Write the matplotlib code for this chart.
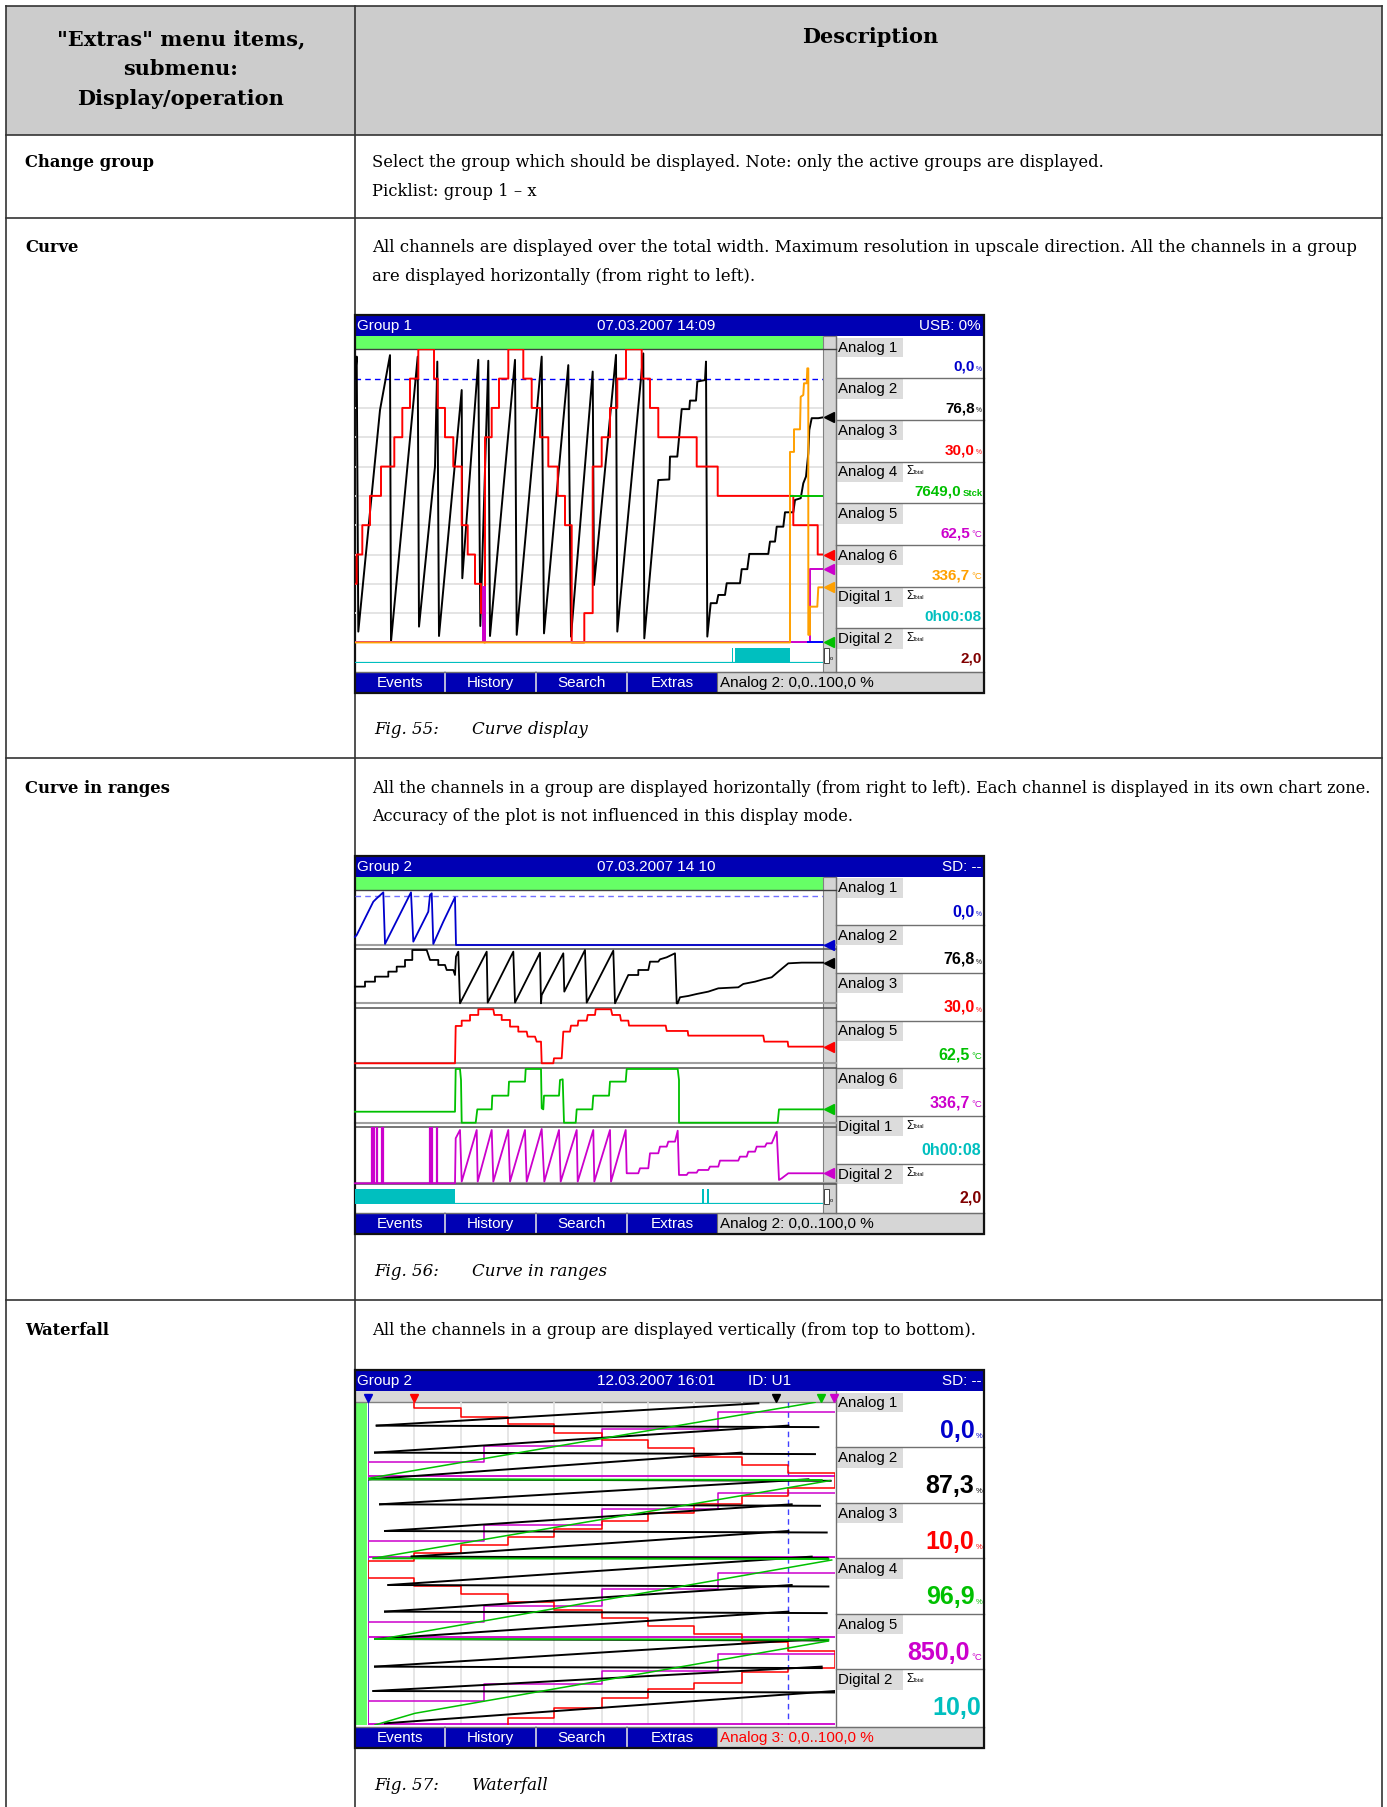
import matplotlib.pyplot as plt
from matplotlib.patches import Rectangle

plt.rcParams['font.family'] = 'DejaVu Serif'

# ---------------- table text ----------------
header_left = ['"Extras" menu items,', 'submenu:', 'Display/operation']
header_right = 'Description'
row_names = ['Change group', 'Curve', 'Curve in ranges', 'Waterfall']
row_texts = [
    ['Select the group which should be displayed. Note: only the active groups are displayed.',
     'Picklist: group 1 \u2013 x'],
    ['All channels are displayed over the total width. Maximum resolution in upscale direction. All the channels in a group',
     'are displayed horizontally (from right to left).'],
    ['All the channels in a group are displayed horizontally (from right to left). Each channel is displayed in its own chart zone.',
     'Accuracy of the plot is not influenced in this display mode.'],
    ['All the channels in a group are displayed vertically (from top to bottom).'],
]
fig_numbers = ['Fig. 55:', 'Fig. 56:', 'Fig. 57:']
fig_titles = ['Curve display', 'Curve in ranges', 'Waterfall']

buttons = ['Events', 'History', 'Search', 'Extras']

# ---------------- Fig. 55: curve display (t = screen column, y = % of range) ----------------
s1_titles = ['Group 1', '07.03.2007 14:09', 'USB: 0%']
s1_status = 'Analog 2: 0,0..100,0 %'
s1_labels = ['Analog 1', 'Analog 2', 'Analog 3', 'Analog 4', 'Analog 5', 'Analog 6', 'Digital 1', 'Digital 2']
s1_values = ['0,0', '76,8', '30,0', '7649,0', '62,5', '336,7', '0h00:08', '2,0']
s1_units = ['%', '%', '%', 'Stck', '\u00b0C', '\u00b0C', '', '']
s1_colors = ['#0000cc', '#000000', '#ff0000', '#00c000', '#cc00cc', '#ffa000', '#00bfbf', '#800000']
s1_sigma = [False, False, False, True, False, False, True, True]
s1_grid = [10, 20, 30, 40, 50, 60, 70, 80]
s1_limit = 90

s1_black = [(0, 90), (1.7, 97.5), (3.3, 3.7), (25, 79.3), (35, 98), (36, 0.3), (62.7, 97.5), (64, 5.4),
            (80, 60), (82.3, 95.8), (84, 2.2), (106.7, 86.1), (107.3, 21.9), (123.3, 96.4), (125.3, 5.6),
            (133.3, 96.1), (135, 2.2), (160, 96.4), (161.7, 2.6), (186.7, 97.5), (189, 3.1), (213.3, 94.6),
            (216, 2), (237.7, 92.4), (239, 19.6), (261, 98.1), (262.3, 3.7), (288.3, 98.6), (289.3, 1.4),
            (303.3, 55.4), (314.3, 55.6), (315, 63.4), (322.3, 63.4), (326.7, 79.6), (334.3, 79.6),
            (335, 82.5), (341, 82.5), (342.3, 89), (350, 89.5), (351, 95.8), (352.3, 2), (355.7, 13.4),
            (361.7, 13.4), (363.3, 16.2), (370, 16.2), (371.7, 20.2), (385, 20.2), (386.7, 25), (392.3, 25),
            (394.3, 30.2), (413.3, 30.2), (415, 34.4), (420, 34.4), (421.7, 39.5), (428.3, 39.5), (430, 44.4),
            (438.3, 44.4), (440, 48.6), (445.7, 49.2), (448.3, 54.3), (451, 56.6), (453.3, 64.5),
            (454.3, 72.5), (456.7, 76.5), (463.3, 76.5), (468.3, 76.8)]
s1_red = [(0, 20), (1.7, 20), (1.7, 30), (7.3, 30), (7.3, 40), (15, 40), (15, 50), (26, 50), (26, 60),
          (39.3, 60), (39.3, 70), (47.3, 70), (47.3, 80), (55, 80), (55, 90), (63.3, 90), (63.3, 100),
          (79, 100), (79, 90), (82.7, 90), (82.7, 80), (90, 80), (90, 70), (98.3, 70), (98.3, 60),
          (106.7, 60), (106.7, 40), (112.7, 40), (112.7, 30), (120, 30), (120, 20), (126, 20), (126, 10),
          (128.3, 10), (129.3, 0), (130, 0), (130, 70), (136.7, 70), (136.7, 80), (144, 80), (144, 90),
          (153.3, 90), (153.3, 100), (168.3, 100), (168.3, 90), (176.7, 90), (176.7, 80), (185, 80),
          (185, 70), (193.3, 70), (193.3, 60), (202.7, 60), (202.7, 50), (210, 50), (210, 40), (216.7, 40),
          (216.7, 0), (229.3, 0), (229.3, 10), (237.7, 10), (237.7, 60), (246.7, 60), (246.7, 70), (255, 70),
          (255, 80), (262.3, 80), (262.3, 90), (271, 90), (271, 100), (286.7, 100), (286.7, 90), (295, 90),
          (295, 80), (303.3, 80), (303.3, 70), (341.7, 70), (341.7, 60), (362.7, 60), (362.7, 50),
          (438.3, 50), (438.3, 40), (462.7, 40), (462.7, 30), (468.3, 30)]
s1_magenta = [(0, 0), (128.3, 0), (128.3, 19), (130, 19), (130, 0), (455, 0), (455, 25), (468.3, 25)]
s1_orange = [(0, 0), (435, 0), (435, 65), (439, 65), (439, 72.7), (445, 72.7), (445.7, 83.8), (448.3, 84.4),
             (449, 88.4), (451.7, 88.4), (452.3, 93.5), (453.3, 93.5), (453.3, 2.6), (455, 2.6), (455, 12.2),
             (462.3, 12.2), (463.3, 18.8), (468.3, 18.8)]
s1_green = [(435.7, 50), (468.3, 50)]
s1_blue = [(453.3, 0), (468.3, 0)]
s1_cursor_y = [76.8, 30, 25, 18.8, 0]
s1_cursor_c = ['#000000', '#ff0000', '#cc00cc', '#ffa000', '#00c000']
s1_digital = [(376.7, 377.8), (379.5, 435)]

# ---------------- Fig. 56: curve in ranges ----------------
s2_titles = ['Group 2', '07.03.2007 14 10', 'SD: --']
s2_status = 'Analog 2: 0,0..100,0 %'
s2_labels = ['Analog 1', 'Analog 2', 'Analog 3', 'Analog 5', 'Analog 6', 'Digital 1', 'Digital 2']
s2_values = ['0,0', '76,8', '30,0', '62,5', '336,7', '0h00:08', '2,0']
s2_units = ['%', '%', '%', '\u00b0C', '\u00b0C', '', '']
s2_colors = ['#0000cc', '#000000', '#ff0000', '#00c000', '#cc00cc', '#00bfbf', '#800000']
s2_sigma = [False, False, False, False, False, True, True]
s2_limit = 91.4

s2_blue = [(0, 15), (1.7, 18.5), (18.3, 80.2), (21.7, 86.4), (28.3, 97.5), (30, 1.9), (56, 97.5), (58.3, 6.2),
           (73.3, 61.7), (75, 92.6), (76.7, 95.7), (78.3, 1.9), (88.3, 43.2), (100, 88.3), (101, 0),
           (468.3, 0)]
s2_black = [(0, 31.3), (10, 31.3), (10, 40.6), (20, 40.6), (20, 50), (33.3, 50), (33.3, 59.4), (41.7, 59.4),
            (41.7, 68.8), (50, 68.8), (50, 81.3), (57.3, 81.3), (57.3, 100), (71.7, 100), (75, 81.3),
            (83.3, 81.3), (83.3, 71.9), (90, 71.9), (91.7, 62.5), (98.3, 62.5), (100, 53.1), (101, 87.5),
            (103.3, 96.9), (105, 0), (131.7, 96.9), (132.7, 1.3), (158.3, 96.9), (160, 1.3), (185, 95),
            (186, 0), (186.7, 15.6), (208.3, 93.8), (209.3, 21.9), (230, 100), (231.7, 1.3), (258.3, 98.8),
            (260, 0), (273.3, 53.1), (283.3, 53.1), (283.3, 62.5), (293.3, 62.5), (295, 78.1), (303.3, 78.1),
            (305, 82.5), (311.7, 86.3), (320, 93.8), (321.7, 0), (322.7, 0), (325, 11.3), (333.3, 13.8),
            (341.7, 17.5), (353.3, 21.9), (363.3, 28.1), (383.3, 30), (388.3, 36.3), (400, 40.6),
            (408.3, 45), (416.7, 48.8), (423.3, 59.4), (433.3, 75), (446.7, 76.3), (468.3, 76.3)]
s2_red = [(0, 0), (100, 0), (100.7, 67.9), (106.7, 67.9), (106.7, 77.6), (115, 77.6), (115, 87.9),
          (123.3, 87.9), (123.3, 98.2), (138.3, 98.2), (139.3, 87.9), (146.7, 87.9), (146.7, 78.8),
          (155, 78.8), (155, 66.7), (163.3, 66.7), (163.3, 57.6), (171.7, 57.6), (172.7, 48.5), (180, 48.5),
          (181.7, 39.4), (186, 39.4), (186.7, 0), (198.3, 0), (199, 9.1), (206.7, 9.1), (208.3, 57.6),
          (215, 57.6), (216, 68.5), (222.7, 68.5), (223.3, 77.6), (231.7, 77.6), (232.7, 87.9), (240, 87.9),
          (240.7, 98.2), (256, 98.2), (257.3, 87.9), (265, 87.9), (266, 77.6), (273.3, 77.6), (274, 68.5),
          (310.7, 68.5), (311.7, 58.8), (332.7, 58.8), (333.3, 50.3), (408.3, 50.3), (409.3, 39.4),
          (432.7, 39.4), (433.3, 30.3), (468.3, 30.3)]
s2_green = [(0, 20.2), (100, 20.2), (100.7, 98.8), (105, 98.8), (106, 78.5), (106.7, 0), (120.7, 0),
            (122.3, 24.5), (136.7, 24.5), (137.3, 49.7), (153.3, 49.7), (154, 75.5), (170, 75.5),
            (170.7, 98.8), (186, 98.8), (186.7, 26.4), (188.3, 24.5), (189, 49.7), (204, 49.7), (205, 78.5),
            (207.7, 79.8), (209, 0), (220.7, 0), (221.7, 24.5), (237.3, 24.5), (238.3, 49.7), (254, 49.7),
            (255, 75.5), (270.7, 75.5), (271.7, 98.8), (322.7, 98.8), (324, 78.5), (324, 0), (422.7, 0),
            (424, 24.5), (468.3, 24.5)]
s2_magenta = [(0, 0), (100, 0), (100.7, 80.4), (105, 95.2), (106.7, 3), (121.7, 95.2), (122.7, 3),
              (136.7, 95.2), (138.3, 3), (153.3, 95.2), (155, 3), (170, 95.2), (171.7, 3), (186.7, 97),
              (189.3, 3), (204, 95.2), (205.7, 3), (221.7, 95.2), (222.7, 3), (238.3, 95.2), (239.3, 3),
              (255, 95.2), (256, 3), (270.7, 95.2), (271.7, 17.9), (283.3, 17.9), (285, 26.8), (293.3, 26.8),
              (295, 53.6), (303.3, 53.6), (305, 65.5), (311.7, 65.5), (313.3, 74.4), (320, 74.4), (322.7, 94),
              (324, 14.9), (331.7, 14.9), (333.3, 19), (341.7, 19), (343.3, 23.8), (353.3, 23.8), (355, 29.8),
              (363.3, 29.8), (365, 40.5), (383.3, 40.5), (385, 47.6), (391.7, 47.6), (393.3, 56.5),
              (400, 56.5), (401.7, 65.5), (410, 65.5), (411.7, 71.4), (416.7, 71.4), (421.7, 92.3), (424, 6),
              (426.7, 8.9), (433.3, 17.9), (468.3, 17.9)]
s2_magenta_spikes = [17.3, 19.3, 21.7, 26.7, 28.3, 75, 77.3, 81.7]
s2_digital = [(0, 100), (346.7, 349.3), (351.7, 354)]
s2_cursor_y = [0, 76.3, 30.3, 24.5, 17.9]

# ---------------- Fig. 57: waterfall (t = screen column, r = screen row from top) ----------------
s3_titles = ['Group 2', '12.03.2007 16:01', 'ID: U1', 'SD: --']
s3_status = 'Analog 3: 0,0..100,0 %'
s3_labels = ['Analog 1', 'Analog 2', 'Analog 3', 'Analog 4', 'Analog 5', 'Digital 2']
s3_values = ['0,0', '87,3', '10,0', '96,9', '850,0', '10,0']
s3_units = ['%', '%', '%', '%', '\u00b0C', '']
s3_colors = ['#0000cc', '#000000', '#ff0000', '#00c000', '#cc00cc', '#00bfbf']
s3_sigma = [False, False, False, False, False, True]

wf_grid_t = [46.7, 93.3, 140.7, 186.7, 234, 280, 326.7, 374]
wf_limit_t = 420.7
wf_marker_t = [0, 46.7, 408.7, 453.3, 466.3]
wf_marker_c = ['#0000cc', '#ff0000', '#000000', '#00c000', '#cc00cc']

wf_black_row_r = [23.3, 50.3, 77, 102, 128.7, 154.3, 182.7, 209.3, 236.7, 264.3, 288.7, 321]
wf_black_left_t = [9, 7.3, 0.7, 12.3, 17.3, 44, 20.7, 17.3, 7.3, 7.3, 5.7, 17.3]
wf_black_flat_end_t = [450.7, 447.3, 463, 452.3, 459, 460, 460.7, 459, 460, 454, 467.3, None]
wf_black_slant_end_t = [390.7, 420.7, 374, 440.7, 424, 420.7, 444, 424, 420.7, 450.7, 454, 467.3]

wf_green_diag = [[(0.7, 76), (447.3, 0)], [(5.7, 156), (462.3, 78.3)], [(17.3, 236), (464, 157.7)],
                 [(7.3, 322.7), (47.3, 311), (460.7, 238.7)]]
wf_green_flat_r = [77, 156, 236.7]
wf_green_flat_t0 = [0.7, 5.7, 7.3]
wf_green_flat_t1 = [454, 460.7, 460.7]

wf_mag_step_t = [0, 116.7, 234, 350, 467.3]
wf_mag_levels = [[59.3, 43.7, 27, 10], [138.7, 122.7, 106.7, 91], [220, 203.3, 186.7, 171],
                 [298.7, 281.7, 268.7, 251.7]]
wf_mag_bound_r = [73.3, 154.3, 235, 322]

wf_red_step_t = [0, 46.7, 93.3, 140.7, 186.7, 234, 280, 326.7, 374, 420.7, 467.3]
wf_red_levels = [[None, 6, 14.3, 22, 30.3, 37.7, 46, 54.3, 62.7, 71],
                 [158.7, 151, 142.7, 134.3, 126.7, 118.7, 111, 102, 93.7, 86],
                 [175.3, 183.7, 192, 200, 207.7, 215.3, 223.7, 232, 240, 248.3],
                 [None, None, None, 316, 305.3, 296, 286.7, 281, 270, 265.3]]

# ---------------- drawing ----------------
W, H = 1387, 1807
fig = plt.figure(figsize=(W / 100, H / 100), dpi=100)
base = fig.add_axes([0, 0, 1, 1])
base.set_xlim(0, W)
base.set_ylim(H, 0)
base.axis('off')

SANS = 'Liberation Sans'
BAR = '#0000b4'
SL, SR = 355, 984
PW = 468.3
LINE = '#333333'


def px_axes(x, y, w, h):
    ax = fig.add_axes([x / W, 1 - (y + h) / H, w / W, h / H])
    ax.axis('off')
    return ax


def xy(pairs):
    return [p[0] for p in pairs], [p[1] for p in pairs]


# table grid
base.add_patch(Rectangle((6, 6), 1376, 129, fc='#cccccc', ec='none'))
for yy in [6, 135, 218, 758, 1300]:
    base.plot([6, 1382], [yy, yy], color=LINE, lw=1.2)
for xx in [6, 355, 1382]:
    base.plot([xx, xx], [6, H], color=LINE, lw=1.2)

for i, s in enumerate(header_left):
    base.text(181, 39 + 30 * i, s, ha='center', va='center', fontsize=15, fontweight='bold')
base.text(870, 37, header_right, ha='center', va='center', fontsize=15, fontweight='bold')

row_y = [162.5, 247.7, 788, 1330.6]
row_fs = [11.8, 11.95, 11.6, 11.8]
for name, lines, y0, fs in zip(row_names, row_texts, row_y, row_fs):
    base.text(25, y0, name, ha='left', va='center', fontsize=11.8, fontweight='bold')
    for k, s in enumerate(lines):
        base.text(372, y0 + 28.5 * k, s, ha='left', va='center', fontsize=fs)

cap_y = [730, 1271, 1785]
for num, ttl, yy in zip(fig_numbers, fig_titles, cap_y):
    base.text(374, yy, num, ha='left', va='center', fontsize=12, style='italic')
    base.text(472, yy, ttl, ha='left', va='center', fontsize=12, style='italic')

UNIT_X = {'%': 976, '\u00b0C': 971.5, 'Stck': 962.5}
BTN_EDGES = [SL, 444.7, 535.7, 626.7, 717.3]


def frame(top, titles, title_x, title_ha, status, status_color, labels, values, units, colors, sigma,
          cell_top, cell_h, val_fs, val_base, unit_fs):
    base.add_patch(Rectangle((SL, top), SR - SL, 378, fc='white', ec='none', zorder=1))
    base.add_patch(Rectangle((SL, top), SR - SL, 21, fc=BAR, ec='none', zorder=2))
    for txt, tx, ha in zip(titles, title_x, title_ha):
        base.text(tx, top + 10.8, txt, color='white', fontsize=11, family=SANS, ha=ha, va='center', zorder=3)
    yb = top + 356.7
    base.add_patch(Rectangle((SL, yb), 717.3 - SL, 21.3, fc=BAR, ec='none', zorder=2))
    for k, name in enumerate(buttons):
        base.text((BTN_EDGES[k] + BTN_EDGES[k + 1]) / 2, yb + 11, name, color='white', fontsize=11,
                  family=SANS, ha='center', va='center', zorder=3)
        if k > 0:
            base.plot([BTN_EDGES[k]] * 2, [yb, yb + 21.3], color='#c8c8e0', lw=1.3, zorder=3)
    base.add_patch(Rectangle((717.3, yb), SR - 717.3, 21.3, fc='#d6d6d6', ec='#707070', lw=0.8, zorder=2))
    base.text(720.5, yb + 11, status, color=status_color, fontsize=11, family=SANS, ha='left',
              va='center', zorder=3)
    base.plot([SL, SR], [yb, yb], color='#707070', lw=1, zorder=3)
    # channel panel
    base.plot([836, 836], [top + 21, yb], color='#707070', lw=1, zorder=3)
    for i, lab in enumerate(labels):
        ct = cell_top + i * cell_h
        base.add_patch(Rectangle((836.5, ct + 0.8), 66.2, 19.5, fc='#dcdcdc', ec='none', zorder=2))
        base.text(838, ct + 10.8, lab, fontsize=10.8, family=SANS, ha='left', va='center', zorder=4)
        if sigma[i]:
            base.text(906.5, ct + 9.5, '\u03a3', fontsize=8.5, family=SANS, ha='left', va='center', zorder=4)
            base.text(913.3, ct + 10.8, 'Total', fontsize=4, family=SANS, ha='left', va='center', zorder=4)
        u = units[i]
        if u:
            ux = UNIT_X[u]
            base.text(ux, ct + val_base, u, fontsize=unit_fs if u == '%' else 6.8,
                      fontweight='bold' if u == 'Stck' else 'normal', family=SANS, color=colors[i],
                      ha='left', va='baseline', zorder=4)
            vx = ux - 1.5
        else:
            vx = 981.5
        base.text(vx, ct + val_base, values[i], fontsize=val_fs, fontweight='bold', family=SANS,
                  color=colors[i], ha='right', va='baseline', zorder=4)
        if i < len(labels) - 1:
            base.plot([836, SR], [ct + cell_h, ct + cell_h], color='#707070', lw=1, zorder=3)
    base.add_patch(Rectangle((SL, top), SR - SL, 378, fc='none', ec='#111111', lw=1.6, zorder=6))


def curve_frame(top):
    base.add_patch(Rectangle((SL, top + 21), PW, 13.3, fc='#66ff66', ec='none', zorder=2))
    base.plot([SL, 836], [top + 34.3, top + 34.3], color='#404040', lw=1, zorder=3)
    base.add_patch(Rectangle((SL + PW, top + 21), 836 - SL - PW, 335.7, fc='#d4d4d4', ec='#808080',
                             lw=0.8, zorder=2))
    base.add_patch(Rectangle((SL + PW + 0.8, top + 333), 5, 14.5, fc='white', ec='#404040', lw=0.7, zorder=3))
    base.text(SL + PW + 8.5, top + 344, 'o', fontsize=4, family=SANS, ha='center', va='center', zorder=3)


LW = 1.4

# ----- screen 1 -----
top1 = 315
frame(top1, s1_titles, [357, 656, 981], ['left', 'center', 'right'], s1_status, 'black',
      s1_labels, s1_values, s1_units, s1_colors, s1_sigma, top1 + 21.7, 41.66, 11, 34, 4.8)
curve_frame(top1)
ax1 = px_axes(SL, top1 + 34.3, PW, 320.7)
ax1.set_xlim(0, PW)
ax1.set_ylim(-9.4, 100)
for g in s1_grid:
    ax1.axhline(g, color='#e2e2e2', lw=1.3)
ax1.axhline(s1_limit, color='#0000ff', lw=1, ls=(0, (4, 3)))
ax1.plot(*xy(s1_black), color='#000000', lw=LW)
ax1.plot(*xy(s1_red), color='#ff0000', lw=LW)
ax1.plot(*xy(s1_magenta), color='#cc00cc', lw=LW)
ax1.plot(*xy(s1_orange), color='#ffa000', lw=LW)
ax1.plot(*xy(s1_green), color='#00c000', lw=LW)
ax1.plot(*xy(s1_blue), color='#0000ff', lw=LW)
for yv, c in zip(s1_cursor_y, s1_cursor_c):
    ax1.plot(474, yv, marker='<', ms=6.5, color=c, clip_on=False)
d1 = px_axes(SL, top1 + 333.3, PW, 14.4)
d1.set_xlim(0, PW)
d1.set_ylim(0, 1)
d1.axhline(0, color='#00bfbf', lw=1.6)
for a, b in s1_digital:
    d1.fill_between([a, b], 0, 1, color='#00bfbf', lw=0)

# ----- screen 2 -----
top2 = 856
frame(top2, s2_titles, [357, 656, 981], ['left', 'center', 'right'], s2_status, 'black',
      s2_labels, s2_values, s2_units, s2_colors, s2_sigma, top2 + 21.3, 47.77, 11.5, 38.7, 4.8)
curve_frame(top2)
zone_top = [891, 950, 1008.3, 1068.3, 1127.3]
zone_base = [945, 1003.3, 1063.3, 1122.7, 1183.3]
zone_sep = [949.3, 1007.7, 1067.7, 1126.7, 1183.6]
for zb, zs in zip(zone_base, zone_sep):
    base.plot([SL, 836], [zb, zb], color='#a0a0a0', lw=1.5, zorder=3)
    base.plot([SL, 836], [zs, zs], color='#505050', lw=1.1, zorder=3)
zones = [(s2_blue, '#0000cc'), (s2_black, '#000000'), (s2_red, '#ff0000'), (s2_green, '#00c000'),
         (s2_magenta, '#cc00cc')]
for k, ((series, col), zt, zb) in enumerate(zip(zones, zone_top, zone_base)):
    ax = px_axes(SL, zt, PW, zb - zt)
    ax.set_xlim(0, PW)
    ax.set_ylim(0, 100)
    if k == 0:
        ax.axhline(s2_limit, color='#7070ff', lw=1, ls=(0, (4, 3)))
    if k == 4:
        ax.vlines(s2_magenta_spikes, 0, 100, color=col, lw=1.6)
    ax.plot(*xy(series), color=col, lw=1.3, clip_on=False)
    ax.plot(474, s2_cursor_y[k], marker='<', ms=6.5, color=col, clip_on=False)
d2 = px_axes(SL, top2 + 333.3, PW, 14.4)
d2.set_xlim(0, PW)
d2.set_ylim(0, 1)
d2.axhline(0, color='#00bfbf', lw=1.6)
for a, b in s2_digital:
    d2.fill_between([a, b], 0, 1, color='#00bfbf', lw=0)

# ----- screen 3 (waterfall) -----
top3 = 1370
frame(top3, s3_titles, [357, 656, 770, 981], ['left', 'center', 'center', 'right'], s3_status, '#ff0000',
      s3_labels, s3_values, s3_units, s3_colors, s3_sigma, top3 + 21.7, 55.55, 18, 46, 5.5)
base.add_patch(Rectangle((SL, top3 + 21), 836 - SL, 11.3, fc='#d8d8d8', ec='none', zorder=2))
base.plot([SL, 836], [top3 + 32.3, top3 + 32.3], color='#808080', lw=1, zorder=3)
base.add_patch(Rectangle((SL, top3 + 32.3), 11.7, 322.7, fc='#66ff66', ec='none', zorder=2))
WW = 467.3
ax3 = px_axes(367.7, top3 + 32.3, WW, 322.7)
ax3.set_xlim(0, WW)
ax3.set_ylim(322.7, 0)
ax3.vlines(wf_grid_t, 0, 322.7, color='#e2e2e2', lw=1.2)
ax3.vlines([wf_limit_t], 0, 322.7, color='#4040ff', lw=1, linestyles=[(0, (4, 3))])
ax3.plot([0, 0], [0, 322.7], color='#2020c0', lw=1.2)

# magenta staircases and boundary lines
for lev, b in zip(wf_mag_levels, wf_mag_bound_r):
    ts, rs = [0], [b]
    for j, L in enumerate(lev):
        ts += [wf_mag_step_t[j], wf_mag_step_t[j + 1]]
        rs += [L, L]
    ax3.plot(ts, rs, color='#cc00cc', lw=1.1)
    ax3.plot([0, WW], [b, b], color='#cc00cc', lw=1.3)

# red zig-zag staircase
rt, rr = [wf_red_step_t[1]], [0]
for c, lev in enumerate(wf_red_levels):
    idx = range(len(lev)) if c % 2 == 0 else range(len(lev) - 1, -1, -1)
    for j in idx:
        if lev[j] is None:
            continue
        a, b = wf_red_step_t[j], wf_red_step_t[j + 1]
        if c % 2 == 1:
            a, b = b, a
        rt += [a, b]
        rr += [lev[j], lev[j]]
rt.append(wf_red_step_t[3])
rr.append(322.7)
ax3.plot(rt, rr, color='#ff0000', lw=1.1)

# black rows
for i, r in enumerate(wf_black_row_r):
    t0 = wf_black_left_t[i]
    prev = wf_black_row_r[i - 1] if i > 0 else 1
    ax3.plot([t0, wf_black_slant_end_t[i]], [r, prev], color='#000000', lw=1.4)
    if wf_black_flat_end_t[i] is not None:
        ax3.plot([t0, wf_black_flat_end_t[i]], [r, r + 1.5], color='#000000', lw=1.4)

# green diagonals
for seg in wf_green_diag:
    ax3.plot(*xy(seg), color='#00c000', lw=1.1)
for r, a, b in zip(wf_green_flat_r, wf_green_flat_t0, wf_green_flat_t1):
    ax3.plot([a, b], [r, r + 0.7], color='#00c000', lw=1.4)

for tm, c in zip(wf_marker_t, wf_marker_c):
    ax3.plot(tm, -4.5, marker='v', ms=6, color=c, clip_on=False)

fig.savefig('out.png', dpi=100)
